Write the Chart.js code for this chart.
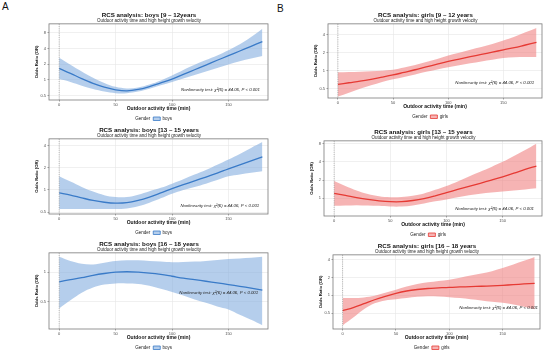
<!DOCTYPE html>
<html>
<head>
<meta charset="utf-8">
<script src="https://cdn.jsdelivr.net/npm/chart.js@4.4.1/dist/chart.umd.min.js"></script>
<style>
  html, body { margin: 0; padding: 0; background: #fff; }
  #wrap { position: relative; width: 550px; height: 353px; overflow: hidden; font-family: "Liberation Sans", Arial, sans-serif; }
  .panel { position: absolute; }
  .tag { position: absolute; font-size: 10px; color: #111; }
</style>
</head>
<body>
<div id="wrap">
  <div class="tag" style="left:2px;top:1px">A</div>
  <div class="tag" style="left:277px;top:3px">B</div>
</div>
<script>
// outdoor activity time (min)
const xMinutes = [0, 10, 20, 30, 40, 50, 60, 70, 80, 90, 100, 110, 120, 130, 140, 150, 160, 170, 180];
const xTicks = [0, 50, 100, 150];

// boys 9-12
const boys9to12Fit   = [1.67, 1.34, 1.06, 0.86, 0.73, 0.65, 0.62, 0.66, 0.75, 0.88, 1.04, 1.28, 1.57, 1.93, 2.38, 2.91, 3.58, 4.4, 5.4];
const boys9to12Upper = [2.67, 1.95, 1.45, 1.1, 0.88, 0.74, 0.69, 0.72, 0.82, 0.98, 1.22, 1.55, 1.95, 2.4, 2.95, 3.7, 4.8, 6.6, 9.5];
const boys9to12Lower = [1.04, 0.92, 0.78, 0.67, 0.6, 0.56, 0.56, 0.6, 0.68, 0.79, 0.92, 1.07, 1.25, 1.45, 1.7, 1.98, 2.28, 2.58, 2.87];
const boys9to12Ticks = [0.5, 1, 2, 4, 8];
const boys9to12Range = [0.415, 11.8];

// boys 13-15
const boys13to15Fit   = [0.91, 0.85, 0.78, 0.72, 0.68, 0.66, 0.67, 0.72, 0.8, 0.91, 1.04, 1.18, 1.33, 1.5, 1.7, 1.94, 2.2, 2.5, 2.83];
const boys13to15Upper = [1.54, 1.3, 1.1, 0.95, 0.85, 0.8, 0.8, 0.86, 0.96, 1.07, 1.22, 1.4, 1.62, 1.87, 2.2, 2.6, 3.1, 3.75, 4.5];
const boys13to15Lower = [0.55, 0.55, 0.55, 0.55, 0.55, 0.55, 0.56, 0.6, 0.67, 0.77, 0.89, 1.0, 1.1, 1.22, 1.37, 1.54, 1.63, 1.72, 1.8];
const boys13to15Ticks = [0.5, 1, 2, 4];
const boys13to15Range = [0.47, 4.98];

// boys 16-18
const boys16to18Fit   = [0.8, 0.84, 0.88, 0.93, 0.97, 1.0, 1.01, 1.0, 0.98, 0.95, 0.91, 0.87, 0.84, 0.81, 0.78, 0.75, 0.72, 0.69, 0.66];
const boys16to18Upper = [1.43, 1.3, 1.22, 1.2, 1.25, 1.3, 1.32, 1.32, 1.3, 1.28, 1.26, 1.27, 1.28, 1.3, 1.33, 1.36, 1.38, 1.4, 1.43];
const boys16to18Lower = [0.43, 0.52, 0.62, 0.7, 0.75, 0.77, 0.77, 0.76, 0.73, 0.68, 0.63, 0.58, 0.53, 0.49, 0.45, 0.42, 0.37, 0.33, 0.29];
const boys16to18Ticks = [0.5, 1];
const boys16to18Range = [0.266, 1.57];

// girls 9-12
const girls9to12Fit   = [0.59, 0.63, 0.67, 0.72, 0.78, 0.85, 0.94, 1.04, 1.16, 1.29, 1.43, 1.57, 1.72, 1.88, 2.05, 2.24, 2.44, 2.7, 2.98];
const girls9to12Upper = [0.94, 0.95, 0.96, 0.98, 1.0, 1.04, 1.13, 1.25, 1.4, 1.58, 1.8, 2.0, 2.25, 2.5, 2.8, 3.2, 3.7, 4.4, 5.2];
const girls9to12Lower = [0.37, 0.43, 0.5, 0.57, 0.65, 0.72, 0.79, 0.87, 0.96, 1.05, 1.14, 1.24, 1.33, 1.43, 1.53, 1.63, 1.68, 1.7, 1.7];
const girls9to12Ticks = [0.5, 1, 2, 4];
const girls9to12Range = [0.35, 6.1];

// girls 13-15
const girls13to15Fit   = [1.21, 1.12, 1.03, 0.96, 0.91, 0.88, 0.88, 0.92, 0.99, 1.1, 1.24, 1.4, 1.57, 1.77, 2.0, 2.27, 2.6, 3.0, 3.4];
const girls13to15Upper = [1.93, 1.6, 1.35, 1.18, 1.08, 1.04, 1.05, 1.1, 1.2, 1.38, 1.6, 1.9, 2.3, 2.75, 3.3, 4.0, 5.0, 6.3, 8.0];
const girls13to15Lower = [0.75, 0.76, 0.77, 0.76, 0.75, 0.73, 0.73, 0.76, 0.82, 0.89, 0.96, 1.04, 1.12, 1.19, 1.25, 1.29, 1.34, 1.4, 1.46];
const girls13to15Ticks = [1, 2, 4, 8];
const girls13to15Range = [0.51, 8.9];

// girls 16-18
const girls16to18Fit   = [0.55, 0.62, 0.72, 0.84, 0.96, 1.08, 1.18, 1.25, 1.3, 1.33, 1.36, 1.38, 1.4, 1.42, 1.44, 1.47, 1.51, 1.55, 1.59];
const girls16to18Upper = [0.9, 0.9, 0.92, 0.98, 1.1, 1.24, 1.4, 1.55, 1.65, 1.74, 1.83, 1.98, 2.15, 2.33, 2.55, 2.87, 3.3, 3.8, 4.4];
const girls16to18Lower = [0.31, 0.42, 0.58, 0.73, 0.82, 0.86, 0.9, 0.94, 0.96, 0.95, 0.93, 0.9, 0.86, 0.82, 0.78, 0.75, 0.7, 0.64, 0.58];
const girls16to18Ticks = [0.5, 1, 2, 4];
const girls16to18Range = [0.27, 4.8];

const subtitle = 'Outdoor activity time and high height growth velocity';
const noteText = 'Nonlinearity test: \u03c7\u00b2(6) = 44.06, P < 0.001';
const FONT = '"Liberation Sans", Arial, sans-serif';

const colors = {
  boys:  { line: '#3a7bc8', band: 'rgba(120, 166, 220, 0.55)' },
  girls: { line: '#e63a34', band: 'rgba(238, 118, 118, 0.55)' }
};

// box = plot area on the page [left, top, right, bottom]; note = text anchor as fraction of plot
const panels = [
  { sex: 'boys', title: 'RCS analysis: boys [9 \u2013 12years', fit: boys9to12Fit, hi: boys9to12Upper, lo: boys9to12Lower,
    ticks: boys9to12Ticks, range: boys9to12Range, box: [49, 24, 268, 100], note: [0.963, 0.87] },
  { sex: 'boys', title: 'RCS analysis: boys [13 \u2013 15 years', fit: boys13to15Fit, hi: boys13to15Upper, lo: boys13to15Lower,
    ticks: boys13to15Ticks, range: boys13to15Range, box: [49, 139, 268, 214], note: [0.96, 0.89] },
  { sex: 'boys', title: 'RCS analysis: boys [16 \u2013 18 years', fit: boys16to18Fit, hi: boys16to18Upper, lo: boys16to18Lower,
    ticks: boys16to18Ticks, range: boys16to18Range, box: [49, 253, 268, 329], note: [0.955, 0.53] },
  { sex: 'girls', title: 'RCS analysis: girls [9 \u2013 12 years', fit: girls9to12Fit, hi: girls9to12Upper, lo: girls9to12Lower,
    ticks: girls9to12Ticks, range: girls9to12Range, box: [328, 24, 542, 98], note: [0.963, 0.80] },
  { sex: 'girls', title: 'RCS analysis: girls [13 \u2013 15 years', fit: girls13to15Fit, hi: girls13to15Upper, lo: girls13to15Lower,
    ticks: girls13to15Ticks, range: girls13to15Range, box: [324, 141, 542, 216], note: [0.963, 0.91] },
  { sex: 'girls', title: 'RCS analysis: girls [16 \u2013 18 years', fit: girls16to18Fit, hi: girls16to18Upper, lo: girls16to18Lower,
    ticks: girls16to18Ticks, range: girls16to18Range, box: [333, 255, 540, 329], note: [0.99, 0.71] }
];

const pts = arr => arr.map((v, i) => ({ x: xMinutes[i], y: v }));

// border, dotted reference at 0 and the nonlinearity note
const panelDecor = {
  id: 'panelDecor',
  afterDatasetsDraw(chart, args, opts) {
    const { ctx, chartArea: a, scales } = chart;
    ctx.save();
    const x0 = scales.x.getPixelForValue(0);
    ctx.strokeStyle = '#8a8a8a';
    ctx.lineWidth = 0.6;
    ctx.setLineDash([1, 1.2]);
    ctx.beginPath();
    ctx.moveTo(x0, a.top);
    ctx.lineTo(x0, a.bottom);
    ctx.stroke();
    ctx.setLineDash([]);
    ctx.strokeStyle = '#7a7a7a';
    ctx.lineWidth = 0.8;
    ctx.strokeRect(a.left, a.top, a.right - a.left, a.bottom - a.top);
    ctx.fillStyle = '#222';
    ctx.font = 'italic 4.3px ' + FONT;
    ctx.textAlign = 'right';
    ctx.textBaseline = 'middle';
    ctx.fillText(noteText, a.left + opts.fx * (a.right - a.left), a.top + opts.fy * (a.bottom - a.top));
    ctx.restore();
  }
};

const TOP_H = 16, LEGEND_H = 17.5, X_H = 13;

panels.forEach(p => {
  const [L, T, R, B] = p.box;
  const cl = L - 49, ct = T - TOP_H;
  const w = R + 7 - cl;
  const h = Math.round((B - T) + TOP_H + X_H + LEGEND_H);
  const xh = h - TOP_H - LEGEND_H - (B - T);

  const div = document.createElement('div');
  div.className = 'panel';
  div.style.left = cl + 'px';
  div.style.top = ct + 'px';
  const cv = document.createElement('canvas');
  cv.width = w; cv.height = h;
  cv.style.width = w + 'px'; cv.style.height = h + 'px';
  div.appendChild(cv);
  document.getElementById('wrap').appendChild(div);

  const c = colors[p.sex];
  new Chart(cv, {
    type: 'line',
    data: {
      datasets: [
        { label: p.sex, data: pts(p.fit), borderColor: c.line, borderWidth: 1.3, pointRadius: 0, tension: 0.35, fill: false, order: 0 },
        { label: 'upper', data: pts(p.hi), borderWidth: 0, pointRadius: 0, tension: 0.35, fill: '+1', backgroundColor: c.band, order: 1 },
        { label: 'lower', data: pts(p.lo), borderWidth: 0, pointRadius: 0, tension: 0.35, fill: false, order: 1 }
      ]
    },
    options: {
      responsive: false,
      animation: false,
      events: [],
      layout: { padding: { left: 30, right: 7, top: 0, bottom: 0 } },
      scales: {
        x: {
          type: 'linear', min: -9, max: 185,
          afterBuildTicks: s => { s.ticks = xTicks.map(v => ({ value: v })); },
          afterFit: s => { s.height = xh; },
          grid: { color: '#e6e6e6', lineWidth: 0.6, tickLength: 1.5, tickColor: '#666', drawTicks: true },
          border: { display: false },
          ticks: { font: { family: FONT, size: 4 }, color: '#4d4d4d', padding: 0.5, maxRotation: 0, callback: v => String(v) },
          title: { display: true, text: 'Outdoor activity time (min)', font: { family: FONT, size: 5, weight: 'bold', lineHeight: 1 }, color: '#111', padding: { top: 0, bottom: 2.5 } }
        },
        y: {
          type: 'logarithmic', min: p.range[0], max: p.range[1],
          afterBuildTicks: s => { s.ticks = p.ticks.map(v => ({ value: v })); },
          afterFit: s => { s.width = 19; },
          grid: { color: '#e6e6e6', lineWidth: 0.6, tickLength: 1.5, tickColor: '#666', drawTicks: true },
          border: { display: false },
          ticks: { font: { family: FONT, size: 4 }, color: '#4d4d4d', padding: 1.5, callback: v => String(v) },
          title: { display: true, text: 'Odds Ratio (OR)', font: { family: FONT, size: 4.2, weight: 'bold', lineHeight: 1 }, color: '#111', padding: { top: 5, bottom: 0 } }
        }
      },
      plugins: {
        title: { display: true, text: p.title, font: { family: FONT, size: 6.2, weight: 'bold', lineHeight: 1 }, color: '#111', padding: { top: 3.9, bottom: 0 } },
        subtitle: { display: true, text: subtitle, font: { family: FONT, size: 4.5, lineHeight: 1 }, color: '#222', padding: { top: 0, bottom: 1.25 } },
        legend: {
          position: 'bottom',
          labels: {
            font: { family: FONT, size: 4.5 }, color: '#222', boxWidth: 7, boxHeight: 3.5, padding: 3,
            generateLabels: () => [
              { text: 'Gender', fillStyle: 'rgba(0,0,0,0)', strokeStyle: 'rgba(0,0,0,0)', lineWidth: 0, fontColor: '#222', hidden: false },
              { text: p.sex, fillStyle: c.band, strokeStyle: c.line, lineWidth: 0.8, fontColor: '#222', hidden: false }
            ]
          }
        },
        tooltip: { enabled: false },
        panelDecor: { fx: p.note[0], fy: p.note[1] }
      }
    },
    plugins: [panelDecor]
  });
});
</script>
</body>
</html>
